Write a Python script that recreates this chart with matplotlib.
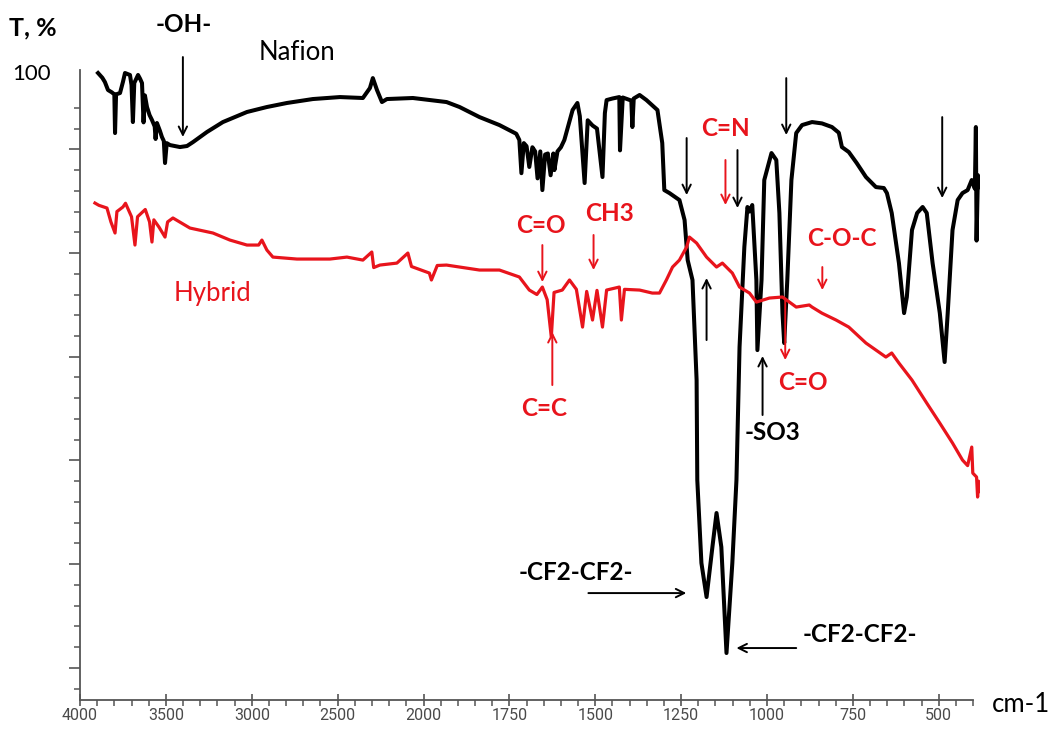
import numpy as np
import matplotlib
matplotlib.use("Agg")
import matplotlib.pyplot as plt
from matplotlib.ticker import FixedLocator, NullFormatter

RED = "#e8141c"
AXIS_GREY = "#555555"

# Nafion membrane spectrum (wavenumber, cm-1 / transmittance, %)
nafion_wn = [3895, 3870, 3855, 3837, 3815, 3800, 3796, 3790, 3767, 3750,
             3738, 3709, 3700, 3692, 3684, 3662, 3650, 3639, 3630, 3622,
             3610, 3595, 3581, 3565, 3560, 3552, 3535, 3523, 3512, 3505,
             3495, 3476, 3418, 3377, 3342, 3261, 3168, 3028, 2912, 2795,
             2644, 2487, 2353, 2312, 2295, 2271, 2242, 2213, 2062, 1933,
             1895, 1837, 1779, 1730, 1721, 1715, 1708, 1700, 1692, 1683,
             1675, 1668, 1660, 1654, 1646, 1638, 1630, 1622, 1619, 1610,
             1600, 1590, 1566, 1552, 1545, 1531, 1522, 1508, 1495, 1479,
             1472, 1467, 1450, 1430, 1428, 1420, 1395, 1392, 1388, 1371,
             1351, 1319, 1305, 1299, 1284, 1255, 1240, 1231, 1217, 1205,
             1203, 1191, 1176, 1159, 1147, 1133, 1118, 1101, 1089, 1080,
             1066, 1057, 1051, 1043, 1031, 1028, 1016, 1008, 987, 973,
             964, 955, 950, 941, 929, 915, 898, 869, 840, 811,
             791, 782, 762, 739, 712, 683, 660, 651, 637, 616,
             601, 593, 578, 563, 547, 535, 518, 497, 483, 474,
             460, 445, 431, 416, 404, 395, 392, 390, 386, 381]
nafion_t = [97.36, 96.9, 96.49, 95.72, 95.5, 95.3, 91.57, 95.3, 95.43, 96.5,
            97.36, 97.17, 96.2, 92.63, 96.4, 97.17, 96.8, 96.39, 92.6, 95.2,
            94.08, 93.3, 92.83, 92.2, 91.0, 92.54, 91.8, 91.19, 90.8, 88.68,
            90.6, 90.41, 90.22, 90.32, 90.7, 91.67, 92.63, 93.6, 94.08, 94.47,
            94.85, 95.04, 94.95, 95.91, 96.87, 95.72, 94.56, 94.85, 94.95, 94.56,
            94.08, 93.11, 92.34, 91.5, 90.9, 87.7, 90.6, 90.3, 88.3, 90.2,
            89.8, 87.2, 89.8, 86.07, 89.5, 89.6, 87.5, 89.6, 88.0, 89.8,
            90.2, 90.9, 93.79, 94.47, 93.2, 86.75, 92.8, 92.3, 92.0, 87.33,
            93.5, 94.75, 94.9, 95.04, 89.9, 95.0, 94.7, 92.15, 94.9, 95.24,
            94.75, 93.79, 90.61, 86.07, 85.78, 85.11, 83.18, 79.32, 77.4, 67.75,
            58.11, 50.11, 46.83, 51.65, 54.93, 51.65, 41.43, 50.11, 58.11, 70.93,
            80.58, 84.44, 84.0, 84.63, 77.4, 70.64, 77.4, 87.04, 89.64, 88.97,
            83.86, 74.21, 71.32, 77.4, 87.04, 91.57, 92.34, 92.63, 92.5, 92.15,
            91.6, 90.22, 89.74, 88.68, 87.33, 86.36, 86.27, 85.78, 83.86, 79.03,
            74.21, 75.76, 82.22, 83.86, 84.44, 83.86, 79.03, 74.21, 69.49, 74.21,
            82.22, 85.11, 85.78, 86.07, 87.04, 86.2, 92.15, 81.2, 87.5, 86.36]

# Hybrid membrane spectrum
hybrid_wn = [3913, 3890, 3843, 3820, 3796, 3785, 3750, 3735, 3700, 3680,
             3665, 3620, 3595, 3581, 3570, 3540, 3505, 3490, 3459, 3360,
             3226, 3127, 3028, 2960, 2941, 2912, 2877, 2737, 2545, 2446,
             2353, 2301, 2290, 2254, 2155, 2091, 2070, 1983, 1977, 1960,
             1933, 1895, 1837, 1779, 1721, 1692, 1670, 1654, 1640, 1628,
             1620, 1596, 1575, 1555, 1537, 1525, 1508, 1495, 1479, 1467,
             1430, 1424, 1415, 1371, 1334, 1313, 1293, 1275, 1255, 1234,
             1226, 1205, 1176, 1147, 1130, 1101, 1080, 1051, 1031, 993,
             955, 915, 877, 869, 840, 799, 762, 712, 654, 637,
             616, 578, 535, 497, 460, 431, 416, 404, 401, 390,
             387, 384, 381]
hybrid_t = [84.82, 84.6, 84.34, 83.0, 81.93, 84.0, 84.44, 84.8, 83.5, 80.77,
            83.5, 84.2, 83.0, 81.06, 83.2, 82.5, 81.54, 83.0, 83.38, 82.41,
            81.93, 81.25, 80.77, 80.77, 81.25, 80.29, 79.61, 79.42, 79.42, 79.61,
            79.32, 80.1, 78.6, 78.84, 79.03, 80.0, 78.7, 78.07, 77.4, 78.8,
            78.84, 78.65, 78.36, 78.36, 77.69, 76.43, 76.0, 76.72, 75.5, 71.9,
            76.2, 76.43, 77.4, 76.5, 72.86, 76.3, 73.54, 76.4, 72.86, 76.43,
            76.72, 73.54, 76.5, 76.43, 76.14, 76.14, 77.4, 78.65, 79.32, 80.58,
            81.54, 80.96, 79.61, 78.65, 79.03, 78.07, 76.72, 76.14, 75.27, 75.66,
            75.76, 74.79, 74.99, 74.79, 74.2, 73.54, 72.86, 71.32, 69.97, 70.36,
            69.39, 67.75, 65.53, 63.6, 61.68, 60.04, 59.5, 61.29, 58.78, 58.4,
            56.47, 58.0, 57.0]

x_major = [4000, 3500, 3000, 2500, 2000, 1750, 1500, 1250, 1000, 750, 500]
y_major = [40, 50, 60, 70, 80, 90]

# band labels: text, wavenumber, T, colour
labels = [
    ("C=O", 1657, 82.7, RED),
    ("CH3", 1459, 83.86, RED),
    ("C=C", 1648, 65.05, RED),
    ("C=N", 1121, 92.05, RED),
    ("C=O", 897, 67.56, RED),
    ("C-O-C", 781, 81.45, RED),
    ("-SO3", 984, 62.74, "black"),
    ("-CF2-CF2-", 1555, 49.24, "black"),
    ("-CF2-CF2-", 731, 43.26, "black"),
    ("-OH-", 3395, 101.99, "black"),
]
# arrows: tail (wn, T) -> head (wn, T), colour
arrows = [
    (3401, 98.9, 3401, 91.19, "black"),
    (1654, 80.77, 1654, 77.2, RED),
    (1505, 81.74, 1505, 78.36, RED),
    (1625, 67.27, 1625, 72.38, RED),
    (1234, 91.09, 1234, 85.59, "black"),
    (1121, 88.97, 1121, 84.63, RED),
    (1086, 89.93, 1086, 84.34, "black"),
    (944, 96.87, 944, 91.38, "black"),
    (1176, 71.61, 1176, 77.59, "black"),
    (1013, 64.38, 1013, 70.07, "black"),
    (947, 75.47, 947, 69.68, RED),
    (839, 78.65, 839, 76.43, RED),
    (490, 93.11, 490, 85.3, "black"),
    (1520, 47.21, 1235, 47.21, "black"),
    (915, 41.91, 1089, 41.91, "black"),
]


def fwd(x):
    # wavenumbers above 2000 are drawn at half scale
    x = np.asarray(x, dtype=float)
    return np.where(x > 2000, 2000 + (x - 2000) / 2, x)


def inv(u):
    u = np.asarray(u, dtype=float)
    return np.where(u > 2000, 2000 + (u - 2000) * 2, u)


fig = plt.figure(figsize=(10.57, 7.29), dpi=100)
ax = fig.add_axes([80 / 1057, 29 / 729, 900 / 1057, 630 / 729])
ax.set_xscale("function", functions=(fwd, inv))

ax.plot(nafion_wn, nafion_t, color="black", lw=2.9, solid_joinstyle="round")
ax.plot(hybrid_wn, hybrid_t, color=RED, lw=2.3, solid_joinstyle="round")

ax.set_xlim(4000, 380)
ax.set_ylim(36.9, 97.65)

for side in ["top", "right"]:
    ax.spines[side].set_visible(False)
for side in ["left", "bottom"]:
    ax.spines[side].set_color(AXIS_GREY)
    ax.spines[side].set_linewidth(1.3)
ax.spines["bottom"].set_bounds(400, 4000)

x_minor = [v for v in list(range(3900, 2000, -100)) + list(range(1950, 399, -50)) if v not in x_major]
ax.xaxis.set_major_locator(FixedLocator(x_major))
ax.xaxis.set_minor_locator(FixedLocator(x_minor))
ax.set_xticklabels([str(v) for v in x_major], family=["Roboto", "DejaVu Sans"])
ax.xaxis.set_minor_formatter(NullFormatter())

y_minor = [v for v in range(38, 95, 2) if v not in y_major]
ax.yaxis.set_major_locator(FixedLocator(y_major))
ax.yaxis.set_minor_locator(FixedLocator(y_minor))
ax.yaxis.set_major_formatter(NullFormatter())

ax.tick_params(axis="x", which="major", direction="inout", length=8, width=1.2,
               color=AXIS_GREY, labelsize=11.5, labelcolor="#4a4a4a", pad=2)
ax.tick_params(axis="x", which="minor", direction="out", length=4, width=1.1, color=AXIS_GREY)
ax.tick_params(axis="y", which="major", direction="out", length=8, width=1.2, color=AXIS_GREY)
ax.tick_params(axis="y", which="minor", direction="out", length=4.5, width=1.1, color=AXIS_GREY)

for x0, y0, x1, y1, c in arrows:
    ax.annotate("", xy=(x1, y1), xytext=(x0, y0), annotation_clip=False,
                arrowprops=dict(arrowstyle="->,head_length=0.6,head_width=0.3",
                                color=c, lw=1.4, shrinkA=0, shrinkB=0))

for txt, x, y, c in labels:
    ax.text(x, y, txt, color=c, fontsize=17.5, fontweight="bold", family="Lato",
            ha="center", va="center", clip_on=False)

ax.text(2737, 99.38, "Nafion", color="black", fontsize=18.5, family="Lato",
        ha="center", va="center", clip_on=False)
ax.text(3226, 76.14, "Hybrid", color=RED, fontsize=18.5, family="Lato",
        ha="center", va="center")

fig.text(33 / 1057, 1 - 28 / 729, "T, %", fontsize=18, fontweight="bold",
         family="Lato", ha="center", va="center")
fig.text(32 / 1057, 1 - 74 / 729, "100", fontsize=16, family="Lato",
         ha="center", va="center")
fig.text(1021 / 1057, 1 - 705 / 729, "cm-1", fontsize=18.5, family="Lato",
         ha="center", va="center")

fig.savefig("out.png", dpi=100, facecolor="white")
